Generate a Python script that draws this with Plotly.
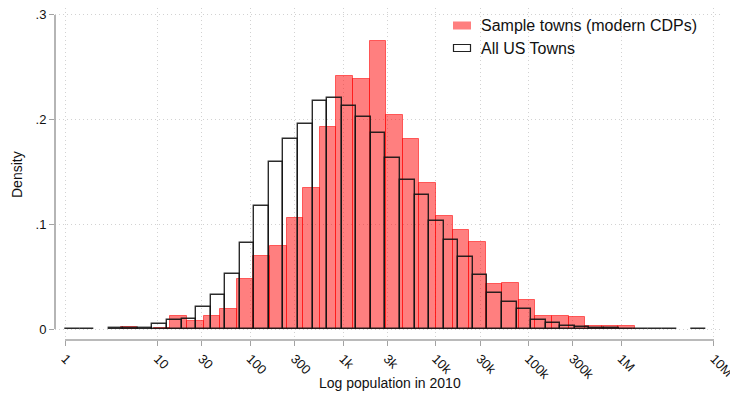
import numpy as np
import plotly.graph_objects as go

# Histogram of ln(population in 2010); densities are per unit of ln(pop).
# Sample towns (modern CDPs): 31 equal-width bins
sample_start = 1.38
sample_width = 0.4122
sample_density = [
    0.0016, None, 0.0006, 0.0127, 0.0078, 0.0127, 0.0190, 0.0477,
    0.0697, 0.0793, 0.1060, 0.1347, 0.1930, 0.2417, 0.2385, 0.2750,
    0.2044, 0.1815, 0.1397, 0.1079, 0.0946, 0.0828, 0.0430, 0.0442,
    0.0277, 0.0127, 0.0127, 0.0112, 0.0030, 0.0030, 0.0030,
]

# All US towns: 44 equal-width bins
all_start = 0.0
all_width = 0.36175
all_density = [
    0.0003, 0.0003, None, 0.0005, 0.0010, 0.0005, 0.0045, 0.0083,
    0.0093, 0.0215, 0.0325, 0.0525, 0.0826, 0.1178, 0.1592, 0.1818,
    0.1958, 0.2178, 0.2203, 0.2127, 0.2022, 0.1869, 0.1630, 0.1427,
    0.1277, 0.1032, 0.0847, 0.0688, 0.0516, 0.0341, 0.0261, 0.0188,
    0.0082, 0.0057, 0.0025, 0.0018, 0.0010, 0.0005, 0.0003, 0.0003,
    0.0003, 0.0003, None, 0.0003,
]

# Axis ticks: population values shown on the ln scale
tick_pop = [1, 10, 30, 100, 300, 1e3, 3e3, 1e4, 3e4, 1e5, 3e5, 1e6, 1e7]
tick_text = ["1", "10", "30", "100", "300", "1k", "3k", "10k", "30k",
             "100k", "300k", "1M", "10M"]
y_ticks = [0, 0.1, 0.2, 0.3]
y_text = ["0", ".1", ".2", ".3"]

FONT = "Liberation Sans, Arial, sans-serif"
AXIS_GREY = "#a3a3a3"
GRID_GREY = "#d2d2d2"
TEXT = "#111111"


def centers(start, width, n):
    return [start + width * (i + 0.5) for i in range(n)]


fig = go.Figure()

fig.add_trace(go.Bar(
    x=centers(sample_start, sample_width, len(sample_density)),
    y=sample_density,
    width=sample_width,
    name="Sample towns (modern CDPs)",
    marker=dict(color="rgba(255,0,0,0.5)",
                line=dict(color="rgba(255,0,0,0.55)", width=1)),
    showlegend=False,
))

fig.add_trace(go.Bar(
    x=centers(all_start, all_width, len(all_density)),
    y=all_density,
    width=all_width,
    name="All US Towns",
    marker=dict(color="rgba(0,0,0,0)",
                line=dict(color="rgba(20,20,20,0.9)", width=1.4)),
    showlegend=False,
))

tick_vals = [float(np.log(p)) for p in tick_pop]

# plot area: left 55, right 722, top 8, bottom 340 (px)
W, H = 730, 394
L, R, T, B = 55, 8, 8, 54
pw, ph = W - L - R, H - T - B


def px_x(px):
    return (px - L) / pw


def px_y(py):
    return (H - B - py) / ph


fig.update_layout(
    width=W, height=H,
    margin=dict(l=L, r=R, t=T, b=B),
    paper_bgcolor="white", plot_bgcolor="white",
    barmode="overlay", bargap=0,
    font=dict(family=FONT, color=TEXT, size=12),
    xaxis=dict(
        range=[-0.2484, 16.317],
        tickmode="array", tickvals=tick_vals, ticktext=tick_text,
        tickangle=45, ticks="outside", ticklen=5, tickwidth=1.2,
        tickcolor=AXIS_GREY, tickfont=dict(size=13, family=FONT, color=TEXT),
        ticklabeloverflow="allow", automargin=False,
        showgrid=True, gridcolor=GRID_GREY, griddash="1px,3px", gridwidth=1,
        zeroline=False, showline=False,
    ),
    yaxis=dict(
        range=[-0.0105, 0.3066],
        tickmode="array", tickvals=y_ticks, ticktext=y_text,
        ticks="outside", ticklen=5, tickwidth=1.2, tickcolor=AXIS_GREY,
        tickfont=dict(size=13, family=FONT, color=TEXT), automargin=False,
        showgrid=True, gridcolor=GRID_GREY, griddash="1px,3px", gridwidth=1,
        zeroline=False, showline=False,
    ),
    shapes=[
        # x axis line spanning 1 .. 10M
        dict(type="line", xref="x", yref="paper",
             x0=tick_vals[0], x1=tick_vals[-1], y0=0, y1=0,
             line=dict(color=AXIS_GREY, width=1.6)),
        # y axis line spanning 0 .. .3
        dict(type="line", xref="paper", yref="y",
             x0=0, x1=0, y0=y_ticks[0], y1=y_ticks[-1],
             line=dict(color=AXIS_GREY, width=1.6)),
        # legend keys
        dict(type="rect", xref="paper", yref="paper",
             x0=px_x(453), x1=px_x(471), y0=px_y(29.5), y1=px_y(21.5),
             fillcolor="rgba(255,0,0,0.5)", line=dict(width=0)),
        dict(type="rect", xref="paper", yref="paper",
             x0=px_x(453.5), x1=px_x(470.5), y0=px_y(51.5), y1=px_y(44.5),
             fillcolor="white", line=dict(color="#222222", width=1.2)),
    ],
    annotations=[
        dict(text="Sample towns (modern CDPs)", xref="paper", yref="paper",
             x=px_x(479), y=px_y(25.5), xanchor="left", yanchor="middle",
             showarrow=False, font=dict(size=16, family=FONT, color=TEXT)),
        dict(text="All US Towns", xref="paper", yref="paper",
             x=px_x(479), y=px_y(48), xanchor="left", yanchor="middle",
             showarrow=False, font=dict(size=16, family=FONT, color=TEXT)),
        dict(text="Log population in 2010", xref="paper", yref="paper",
             x=px_x(390), y=px_y(383), xanchor="center", yanchor="middle",
             showarrow=False, font=dict(size=14, family=FONT, color=TEXT)),
        dict(text="Density", xref="paper", yref="paper", textangle=-90,
             x=px_x(17), y=px_y(175), xanchor="center", yanchor="middle",
             showarrow=False, font=dict(size=14, family=FONT, color=TEXT)),
    ],
)

fig.write_html("out.html")
